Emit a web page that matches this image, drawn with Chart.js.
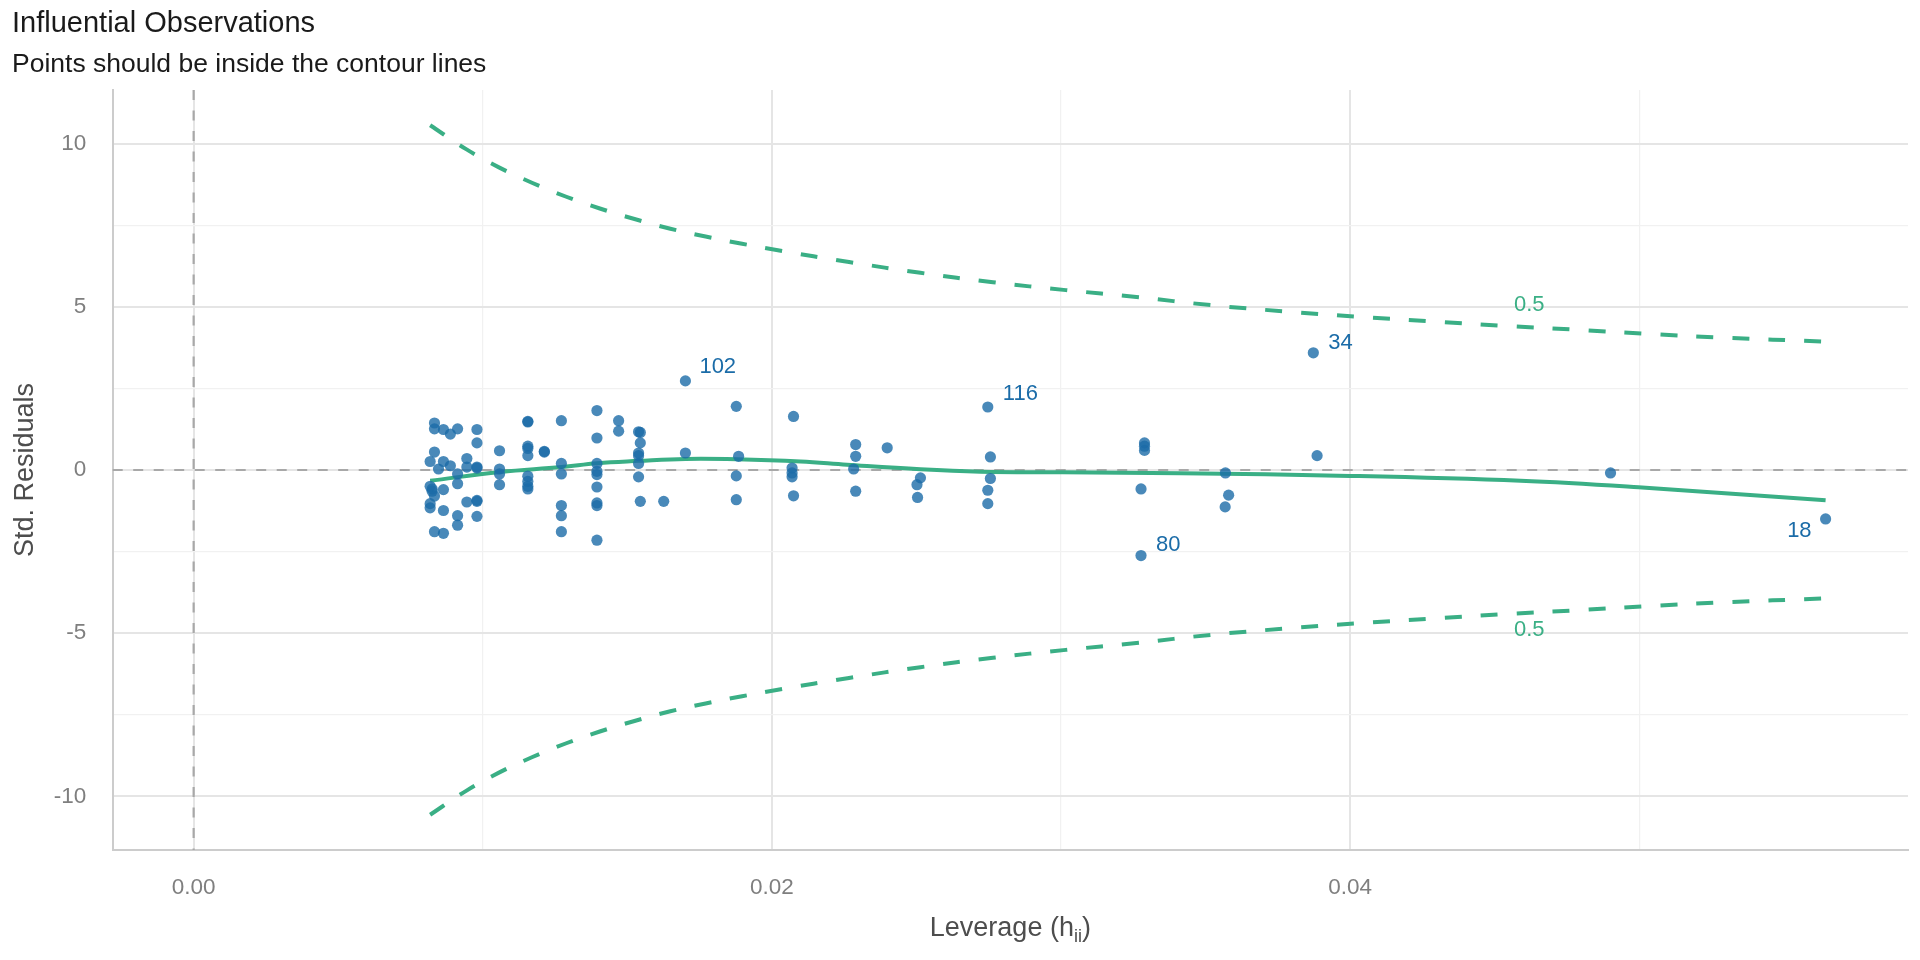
<!DOCTYPE html>
<html>
<head>
<meta charset="utf-8">
<title>Influential Observations</title>
<script src="https://cdn.jsdelivr.net/npm/chart.js@4.4.1/dist/chart.umd.min.js"></script>
<style>
  html, body { margin: 0; padding: 0; background: #ffffff; }
  canvas { display: block; }
</style>
</head>
<body>
<canvas id="influenceChart" width="1920" height="960"></canvas>
<script>
// observations: leverage (h_ii) and standardized residuals
const leverage = [
    0.00833, 0.00833, 0.00833, 0.00818, 0.00818, 0.00825, 0.00825, 0.00833, 0.00818, 0.00818, 0.00833,
    0.00847,
    0.00864, 0.00864, 0.00864, 0.00864, 0.00864,
    0.00888, 0.00888,
    0.00913, 0.00913, 0.00913, 0.00913, 0.00913,
    0.00945, 0.00945, 0.00945,
    0.0098, 0.0098, 0.0098, 0.0098, 0.0098, 0.0098, 0.0098,
    0.01058, 0.01058, 0.01058, 0.01058,
    0.01156, 0.01156, 0.01156, 0.01156, 0.01156, 0.01156, 0.01156, 0.01156, 0.01156,
    0.01213, 0.01213,
    0.01272, 0.01272, 0.01272, 0.01272, 0.01272, 0.01272,
    0.01395, 0.01395, 0.01395, 0.01395, 0.01395, 0.01395, 0.01395, 0.01395, 0.01395,
    0.0147, 0.0147,
    0.01539, 0.01545, 0.01545, 0.01539, 0.01539, 0.01539, 0.01539, 0.01545,
    0.01626,
    0.01701,
    0.01877, 0.01885, 0.01877, 0.01877,
    0.02075, 0.0207, 0.0207, 0.0207, 0.02075,
    0.0229, 0.0229, 0.02283, 0.0229,
    0.02399,
    0.02514, 0.02502, 0.02504,
    0.02756, 0.02756, 0.02747, 0.02747,
    0.03289, 0.03289, 0.03289, 0.03277,
    0.03569, 0.0358, 0.03568,
    0.03886,
    0.04901
];
const stdResiduals = [
    1.44, 1.26, 0.55, 0.26, -0.5, -0.58, -0.65, -0.8, -1.03, -1.16, -1.89,
    0.03,
    1.24, 0.26, -0.6, -1.24, -1.94,
    1.1, 0.13,
    1.26, -0.12, -0.42, -1.4, -1.69,
    0.35, 0.09, -0.98,
    1.24, 0.83, 0.09, 0.06, -0.93, -0.96, -1.42,
    0.59, 0.03, -0.12, -0.45,
    1.49, 1.47, 0.73, 0.66, 0.44, -0.19, -0.35, -0.5, -0.58,
    0.57, 0.55,
    1.51, 0.2, -0.12, -1.09, -1.4, -1.89,
    1.82, 0.98, 0.2, -0.04, -0.14, -0.52, -1.01, -1.09, -2.15,
    1.51, 1.19,
    1.17, 1.15, 0.83, 0.52, 0.44, 0.2, -0.21, -0.96,
    -0.96,
    0.52,
    1.95, 0.42, -0.18, -0.91,
    1.64, 0.06, -0.09, -0.21, -0.79,
    0.78, 0.42, 0.03, -0.65,
    0.68,
    -0.24, -0.45, -0.84,
    0.4, -0.26, -0.62, -1.03,
    0.83, 0.73, 0.6, -0.58,
    -0.09, -0.77, -1.13,
    0.44,
    -0.09
];

// flagged observations
const flaggedIds = ['102', '116', '34', '80', '18'];
const flaggedLeverage = [0.01701, 0.02747, 0.03873, 0.03277, 0.05645];
const flaggedResiduals = [2.73, 1.93, 3.59, -2.62, -1.5];

// loess fit
const smoothLeverage = [0.00818, 0.01061, 0.01272, 0.01395, 0.01539, 0.01701, 0.01877, 0.02099, 0.0226,
    0.02514, 0.02721, 0.03004, 0.03414, 0.04002, 0.0459, 0.04998, 0.05645];
const smoothResiduals = [-0.33, -0.06, 0.09, 0.21, 0.28, 0.34, 0.33, 0.26, 0.16,
    0.02, -0.05, -0.07, -0.1, -0.18, -0.33, -0.53, -0.93];

// cook's distance contour
const contourLevel = '0.5';
const contourLeverage = [0.00818, 0.00944, 0.01056, 0.0117, 0.01289, 0.01405, 0.01528, 0.01649, 0.01771,
    0.01897, 0.02021, 0.02267, 0.02514, 0.02765, 0.03017, 0.03261, 0.03518, 0.03771, 0.04021, 0.04273,
    0.04526, 0.04776, 0.0503, 0.05279, 0.05645];
const contourUpper = [10.56, 9.82, 9.27, 8.8, 8.37, 8.01, 7.68, 7.39, 7.15,
    6.93, 6.73, 6.37, 6.04, 5.75, 5.51, 5.3, 5.05, 4.86, 4.7, 4.56,
    4.42, 4.3, 4.17, 4.06, 3.93];
const contourLower = [-10.56, -9.82, -9.27, -8.8, -8.37, -8.01, -7.68, -7.39, -7.15,
    -6.93, -6.73, -6.37, -6.04, -5.75, -5.51, -5.3, -5.05, -4.86, -4.7, -4.56,
    -4.42, -4.3, -4.17, -4.06, -3.93];

// ticks
const xMajorTicks = [0, 0.02, 0.04];
const xMinorTicks = [0.01, 0.03, 0.05];
const yMajorTicks = [-10, -5, 0, 5, 10];
const yMinorTicks = [-7.5, -2.5, 2.5, 7.5];

// styling
const fontFamily = "'Liberation Sans', Arial, Helvetica, sans-serif";
const blue = '#1b6ca8';
const green = '#3aaf85';
const pointFill = 'rgba(27, 108, 168, 0.8)';

// label placement relative to its point: dx, dy, align
const labelOffsets = {
    '102': [14, -14, 'left'],
    '116': [15, -13, 'left'],
    '34': [15, -10, 'left'],
    '80': [15, -11, 'left'],
    '18': [-14, 12, 'right']
};
const contourLabelPos = { x: 0.0462, upper: 5.07, lower: -4.91 };

const toPoints = (xs, ys) => xs.map((x, i) => ({ x: x, y: ys[i] }));

const gridColor = (majors) => (ctx) => majors.includes(ctx.tick.value) ? '#e5e5e5' : '#f1f1f1';
const gridWidth = (majors) => (ctx) => majors.includes(ctx.tick.value) ? 2 : 1.2;

// dashed zero lines
const refLines = {
    id: 'refLines',
    beforeDatasetsDraw(chart) {
        const { ctx, chartArea: area, scales: { x, y } } = chart;
        const x0 = x.getPixelForValue(0);
        const y0 = y.getPixelForValue(0);
        ctx.save();
        ctx.strokeStyle = '#a8a8a8';
        ctx.lineWidth = 2.2;
        ctx.setLineDash([10, 10.5]);
        ctx.beginPath();
        ctx.moveTo(area.left, y0);
        ctx.lineTo(area.right, y0);
        ctx.moveTo(x0, area.top);
        ctx.lineTo(x0, area.bottom);
        ctx.stroke();
        ctx.restore();
    }
};

// point ids and contour level labels
const textLabels = {
    id: 'textLabels',
    afterDatasetsDraw(chart) {
        const { ctx, scales: { x, y } } = chart;
        ctx.save();
        ctx.font = '22px ' + fontFamily;
        ctx.textBaseline = 'middle';
        ctx.fillStyle = blue;
        flaggedIds.forEach((id, i) => {
            const off = labelOffsets[id];
            ctx.textAlign = off[2];
            ctx.fillText(id, x.getPixelForValue(flaggedLeverage[i]) + off[0], y.getPixelForValue(flaggedResiduals[i]) + off[1]);
        });
        ctx.fillStyle = green;
        ctx.textAlign = 'center';
        const cx = x.getPixelForValue(contourLabelPos.x);
        ctx.fillText(contourLevel, cx, y.getPixelForValue(contourLabelPos.upper));
        ctx.fillText(contourLevel, cx, y.getPixelForValue(contourLabelPos.lower));
        ctx.restore();
    }
};

// x axis title with subscript
const xAxisTitle = {
    id: 'xAxisTitle',
    afterDraw(chart) {
        const { ctx, chartArea: area } = chart;
        const main = '27px ' + fontFamily;
        const sub = '18px ' + fontFamily;
        ctx.save();
        ctx.fillStyle = '#4d4d4d';
        ctx.textBaseline = 'alphabetic';
        ctx.textAlign = 'left';
        ctx.font = main;
        const w1 = ctx.measureText('Leverage (h').width;
        const w3 = ctx.measureText(')').width;
        ctx.font = sub;
        const w2 = ctx.measureText('ii').width;
        let left = (area.left + area.right) / 2 - (w1 + w2 + w3) / 2;
        const base = 936;
        ctx.font = main;
        ctx.fillText('Leverage (h', left, base);
        ctx.font = sub;
        ctx.fillText('ii', left + w1, base + 6);
        ctx.font = main;
        ctx.fillText(')', left + w1 + w2, base);
        ctx.restore();
    }
};

const pointStyle = {
    backgroundColor: pointFill,
    borderWidth: 0,
    pointRadius: 5.6,
    pointHoverRadius: 5.6
};

new Chart(document.getElementById('influenceChart'), {
    type: 'scatter',
    data: {
        datasets: [
            Object.assign({ label: 'Observations', data: toPoints(leverage, stdResiduals) }, pointStyle),
            Object.assign({ label: 'Influential', data: toPoints(flaggedLeverage, flaggedResiduals) }, pointStyle),
            {
                type: 'line',
                label: 'Loess',
                data: toPoints(smoothLeverage, smoothResiduals),
                borderColor: green,
                borderWidth: 4,
                pointRadius: 0,
                tension: 0.4,
                fill: false
            },
            {
                type: 'line',
                label: "Cook's distance",
                data: toPoints(contourLeverage, contourUpper),
                borderColor: green,
                borderWidth: 4,
                borderDash: [17, 19],
                borderCapStyle: 'butt',
                pointRadius: 0,
                tension: 0.4,
                fill: false
            },
            {
                type: 'line',
                label: "Cook's distance (lower)",
                data: toPoints(contourLeverage, contourLower),
                borderColor: green,
                borderWidth: 4,
                borderDash: [17, 19],
                borderCapStyle: 'butt',
                pointRadius: 0,
                tension: 0.4,
                fill: false
            }
        ]
    },
    options: {
        responsive: false,
        animation: false,
        devicePixelRatio: 1,
        layout: { padding: { left: 12, right: 12, top: 0, bottom: 0 } },
        plugins: {
            legend: { display: false },
            tooltip: { enabled: false },
            title: {
                display: true,
                text: 'Influential Observations',
                align: 'start',
                color: '#1a1a1a',
                font: { family: fontFamily, size: 29, weight: 'normal', lineHeight: 1.2 },
                padding: { top: 7, bottom: 0 }
            },
            subtitle: {
                display: true,
                text: 'Points should be inside the contour lines',
                align: 'start',
                color: '#1a1a1a',
                font: { family: fontFamily, size: 26.5, weight: 'normal', lineHeight: 1.2 },
                padding: { top: 7.2, bottom: 9.2 }
            }
        },
        scales: {
            x: {
                type: 'linear',
                min: -0.0028,
                max: 0.0593,
                afterBuildTicks: (scale) => {
                    scale.ticks = xMajorTicks.concat(xMinorTicks).sort((a, b) => a - b).map(v => ({ value: v }));
                },
                afterFit: (scale) => { scale.height = 110; },
                ticks: {
                    callback: (v) => xMajorTicks.includes(v) ? v.toFixed(2) : '',
                    color: '#7f7f7f',
                    font: { family: fontFamily, size: 22.5 },
                    padding: 24.5,
                    maxRotation: 0,
                    autoSkip: false
                },
                grid: { drawTicks: false, color: gridColor(xMajorTicks), lineWidth: gridWidth(xMajorTicks) },
                border: { display: true, color: '#cccccc', width: 2 },
                title: { display: false }
            },
            y: {
                type: 'linear',
                min: -11.64,
                max: 11.64,
                afterBuildTicks: (scale) => {
                    scale.ticks = yMajorTicks.concat(yMinorTicks).sort((a, b) => a - b).map(v => ({ value: v }));
                },
                afterFit: (scale) => { scale.width = 100.7; },
                ticks: {
                    callback: (v) => yMajorTicks.includes(v) ? String(v) : '',
                    color: '#7f7f7f',
                    font: { family: fontFamily, size: 22.5 },
                    padding: 26.5,
                    autoSkip: false
                },
                grid: { drawTicks: false, color: gridColor(yMajorTicks), lineWidth: gridWidth(yMajorTicks) },
                border: { display: true, color: '#cccccc', width: 2 },
                title: {
                    display: true,
                    text: 'Std. Residuals',
                    color: '#4d4d4d',
                    font: { family: fontFamily, size: 27, lineHeight: 0.8 },
                    padding: { top: 2.5, bottom: 0 }
                }
            }
        }
    },
    plugins: [refLines, textLabels, xAxisTitle]
});
</script>
</body>
</html>
